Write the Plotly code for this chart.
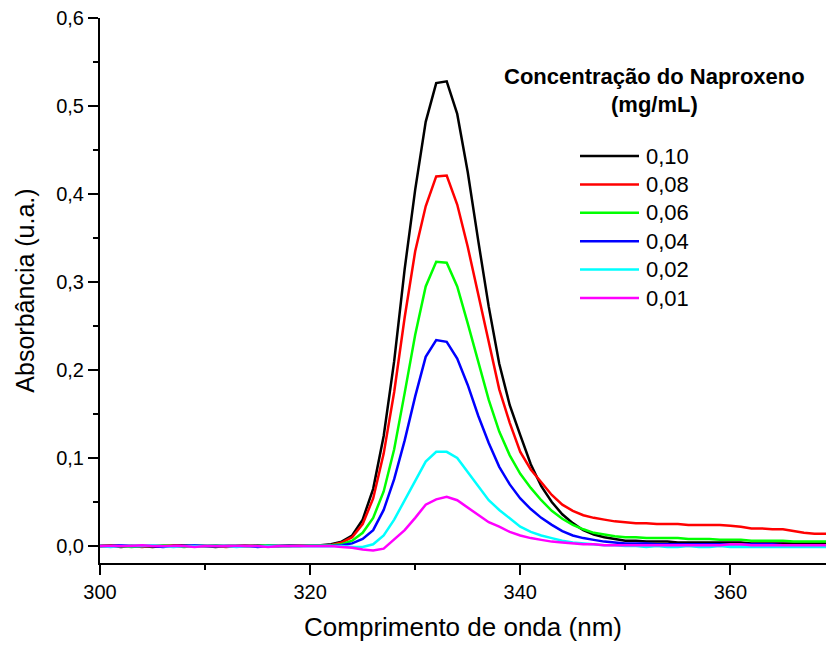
import plotly.graph_objects as go

wavelength = list(range(300, 371))

abs_010 = [0.000, 0.000, -0.001, 0.000, 0.000, -0.001, 0.000, 0.000, 0.001, 0.000,
           0.000, -0.001, 0.000, 0.000, 0.000, 0.001, 0.000, 0.000, 0.001, 0.001,
           0.001, 0.001, 0.002, 0.005, 0.012, 0.030, 0.065, 0.125, 0.210, 0.315,
           0.405, 0.482, 0.526, 0.528, 0.491, 0.425, 0.347, 0.272, 0.207, 0.160,
           0.126, 0.093, 0.068, 0.050, 0.036, 0.026, 0.018, 0.013, 0.010, 0.008,
           0.006, 0.006, 0.005, 0.005, 0.005, 0.004, 0.004, 0.004, 0.004, 0.004,
           0.004, 0.004, 0.003, 0.003, 0.003, 0.003, 0.003, 0.003, 0.003, 0.003,
           0.003]
abs_008 = [0.000, 0.001, 0.000, 0.000, -0.001, 0.000, 0.000, 0.001, 0.000, 0.000,
           0.000, 0.000, -0.001, 0.000, 0.001, 0.000, 0.000, 0.000, 0.000, 0.001,
           0.001, 0.001, 0.001, 0.004, 0.010, 0.025, 0.054, 0.105, 0.175, 0.260,
           0.335, 0.386, 0.420, 0.421, 0.388, 0.340, 0.285, 0.230, 0.178, 0.140,
           0.107, 0.087, 0.072, 0.058, 0.047, 0.040, 0.035, 0.032, 0.030, 0.028,
           0.027, 0.026, 0.026, 0.025, 0.025, 0.025, 0.024, 0.024, 0.024, 0.024,
           0.023, 0.022, 0.020, 0.020, 0.019, 0.019, 0.017, 0.015, 0.014, 0.014,
           0.014]
abs_006 = [0.000, 0.000, 0.000, -0.001, 0.000, 0.000, 0.001, 0.000, -0.001, 0.000,
           0.000, 0.001, 0.000, 0.000, 0.000, 0.000, 0.001, 0.000, 0.000, 0.000,
           0.001, 0.001, 0.001, 0.002, 0.006, 0.015, 0.032, 0.062, 0.110, 0.174,
           0.240, 0.295, 0.323, 0.322, 0.295, 0.253, 0.208, 0.166, 0.130, 0.103,
           0.082, 0.066, 0.052, 0.040, 0.031, 0.024, 0.019, 0.015, 0.013, 0.011,
           0.010, 0.010, 0.009, 0.009, 0.009, 0.009, 0.008, 0.008, 0.008, 0.007,
           0.007, 0.007, 0.006, 0.006, 0.006, 0.006, 0.005, 0.005, 0.005, 0.005,
           0.005]
abs_004 = [0.000, 0.000, 0.001, 0.000, 0.000, 0.000, -0.001, 0.000, 0.000, 0.001,
           0.000, 0.000, 0.000, 0.000, 0.000, -0.001, 0.000, 0.000, 0.000, 0.000,
           0.000, 0.000, 0.000, 0.001, 0.003, 0.008, 0.018, 0.041, 0.076, 0.120,
           0.170, 0.215, 0.234, 0.232, 0.213, 0.183, 0.148, 0.117, 0.090, 0.070,
           0.054, 0.042, 0.032, 0.024, 0.017, 0.012, 0.009, 0.007, 0.005, 0.004,
           0.003, 0.003, 0.003, 0.002, 0.002, 0.002, 0.002, 0.002, 0.002, 0.002,
           0.002, 0.002, 0.002, 0.002, 0.002, 0.001, 0.001, 0.001, 0.001, 0.001,
           0.001]
abs_002 = [0.000, -0.001, 0.000, 0.000, 0.000, 0.001, 0.000, -0.001, 0.000, 0.000,
           0.000, 0.000, 0.000, -0.001, 0.000, 0.000, 0.000, 0.000, 0.000, 0.000,
           0.000, 0.000, 0.000, 0.000, -0.001, -0.001, 0.002, 0.012, 0.030, 0.052,
           0.075, 0.096, 0.107, 0.107, 0.100, 0.084, 0.067, 0.052, 0.041, 0.031,
           0.022, 0.016, 0.012, 0.009, 0.006, 0.004, 0.003, 0.002, 0.001, 0.001,
           0.000, 0.000, -0.001, 0.000, -0.001, -0.001, 0.000, -0.001, -0.001, 0.000,
           -0.001, -0.001, -0.001, -0.001, -0.001, -0.001, -0.001, -0.001, -0.001, -0.001,
           -0.001]
abs_001 = [0.000, 0.000, 0.000, 0.000, 0.001, 0.000, 0.000, 0.000, 0.000, -0.001,
           0.000, 0.000, 0.000, 0.000, 0.000, 0.000, -0.001, 0.000, 0.000, 0.000,
           0.000, 0.000, 0.000, -0.001, -0.002, -0.004, -0.005, -0.003, 0.007, 0.018,
           0.032, 0.047, 0.053, 0.056, 0.052, 0.044, 0.035, 0.027, 0.022, 0.016,
           0.012, 0.009, 0.007, 0.005, 0.004, 0.003, 0.002, 0.002, 0.001, 0.001,
           0.001, 0.001, 0.001, 0.001, 0.001, 0.001, 0.001, 0.001, 0.001, 0.001,
           0.002, 0.002, 0.001, 0.001, 0.001, 0.001, 0.001, 0.001, 0.001, 0.001,
           0.001]

series_names = ["0,10", "0,08", "0,06", "0,04", "0,02", "0,01"]
series_values = [abs_010, abs_008, abs_006, abs_004, abs_002, abs_001]
series_colors = ["#000000", "#FF0000", "#00FF00", "#0000FF", "#00FFFF", "#FF00FF"]

legend_title = ["Concentração do Naproxeno", "(mg/mL)"]
x_title = "Comprimento de onda (nm)"
y_title = "Absorbância (u.a.)"

FONT = "Liberation Sans, Arial, sans-serif"
W, H = 826, 650
ML, MR, MT, MB = 100, 0, 18, 87
PW, PH = W - ML - MR, H - MT - MB


def px2paper(px, py):
    return (px - ML) / PW, (H - MB - py) / PH


fig = go.Figure()
for name, vals, col in zip(series_names, series_values, series_colors):
    fig.add_trace(go.Scatter(x=wavelength, y=vals, mode="lines", name=name,
                             line=dict(color=col, width=2.5), showlegend=False))

# manual legend
shapes = []
annotations = []
for i, (name, col) in enumerate(zip(series_names, series_colors)):
    yy = 156 + i * 28.4
    x0, y0 = px2paper(580, yy)
    x1, _ = px2paper(639, yy)
    shapes.append(dict(type="line", xref="paper", yref="paper", x0=x0, x1=x1, y0=y0, y1=y0,
                       line=dict(color=col, width=2.5)))
    tx, ty = px2paper(644, yy)
    annotations.append(dict(text=name, xref="paper", yref="paper", x=tx, y=ty,
                            xanchor="left", yanchor="middle", showarrow=False,
                            font=dict(family=FONT, size=22, color="#000")))
for j, t in enumerate(legend_title):
    tx, ty = px2paper(654, 77 + j * 28)
    annotations.append(dict(text="<b>" + t + "</b>", xref="paper", yref="paper", x=tx, y=ty,
                            xanchor="center", yanchor="middle", showarrow=False,
                            font=dict(family=FONT, size=22, color="#000")))

axis_common = dict(showline=True, linecolor="#000", linewidth=2, ticks="outside",
                   ticklen=10, tickwidth=2, tickcolor="#000", showgrid=False,
                   zeroline=False, mirror=False,
                   tickfont=dict(family=FONT, size=20, color="#000"))

fig.update_layout(
    width=W, height=H,
    margin=dict(l=ML, r=MR, t=MT, b=MB),
    paper_bgcolor="white", plot_bgcolor="white",
    separators=", ",
    shapes=shapes, annotations=annotations,
    xaxis=dict(range=[300, 369.1], tickmode="linear", tick0=300, dtick=20,
               minor=dict(dtick=10, ticklen=5, tickwidth=2, tickcolor="#000", ticks="outside"),
               title=dict(text=x_title, font=dict(family=FONT, size=26, color="#000"), standoff=16),
               **axis_common),
    yaxis=dict(range=[-0.0193, 0.6], tickmode="linear", tick0=0, dtick=0.1, tickformat=".1f",
               minor=dict(dtick=0.05, ticklen=5, tickwidth=2, tickcolor="#000", ticks="outside"),
               title=dict(text=y_title, font=dict(family=FONT, size=25, color="#000"), standoff=14),
               **axis_common),
)

fig.write_html("out.html")
